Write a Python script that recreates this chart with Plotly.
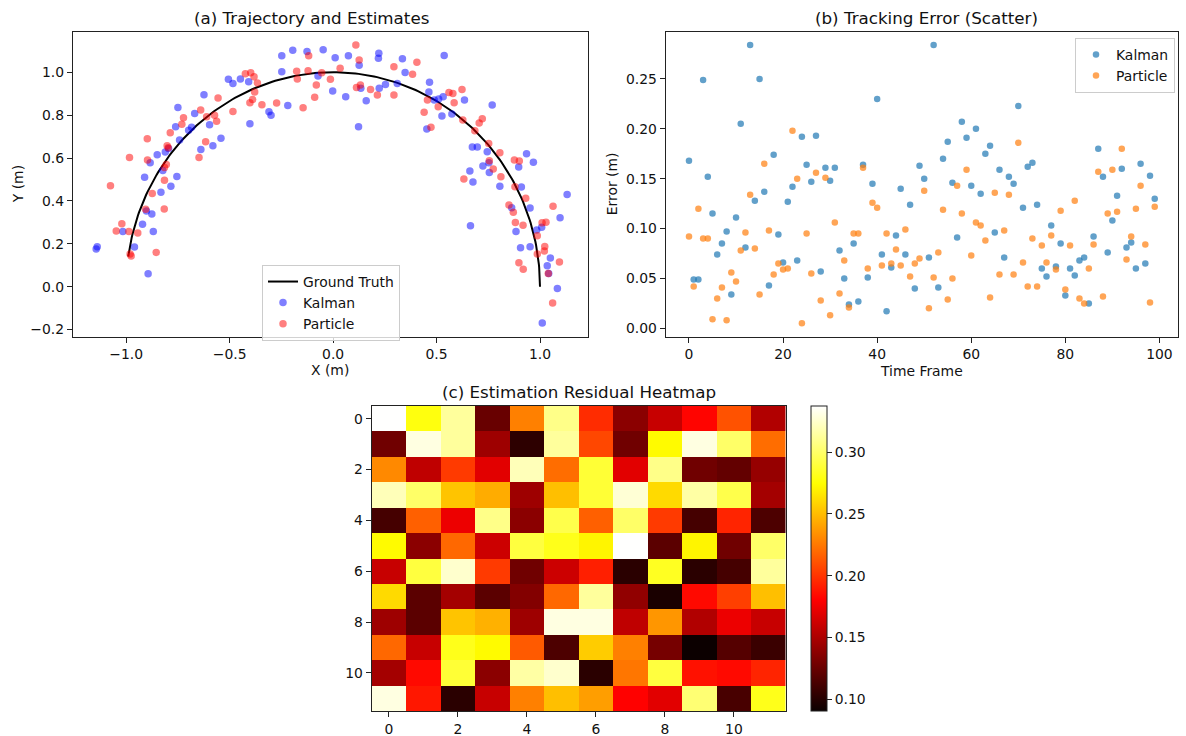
import numpy as np
import plotly.graph_objects as go

W, H = 1186, 736
FONT = "DejaVu Sans"
TXT = "#111"

# ---------------- (a) Trajectory and estimates ----------------
gt_theta = np.linspace(0.0, 3.0, 200)  # ground-truth arc parameter (radians)

kalman_x = [-1.145, -1.140, -1.016, -0.960, -0.894, -0.921, -0.902, -0.876, -0.869, -0.911,
            -0.884, -0.850, -0.832, -0.823, -0.811, -0.795, -0.784, -0.755, -0.761, -0.750,
            -0.742, -0.698, -0.684, -0.669, -0.639, -0.624, -0.597, -0.581, -0.542, -0.506,
            -0.484, -0.448, -0.408, -0.402, -0.310, -0.300, -0.248, -0.248, -0.219, -0.195,
            -0.126, -0.073, -0.048, -0.002, 0.010, 0.061, 0.074, 0.123, 0.126, 0.134,
            0.160, 0.221, 0.219, 0.223, 0.253, 0.310, 0.335, 0.348, 0.466, 0.463,
            0.489, 0.510, 0.532, 0.537, 0.526, 0.453, 0.574, 0.635, 0.769, 0.673,
            0.697, 0.745, 0.724, 0.753, 0.755, 0.661, 0.676, 0.806, 0.664, 0.897,
            0.935, 0.968, 0.910, 0.952, 0.863, 0.884, 0.906, 0.952, 0.984, 1.008,
            1.050, 1.035, 1.042, 1.097, 1.131, 1.084, 1.011]
kalman_y = [0.176, 0.186, 0.258, 0.185, 0.061, 0.291, 0.353, 0.339, 0.258, 0.510,
            0.578, 0.615, 0.440, 0.542, 0.628, 0.645, 0.468, 0.514, 0.746, 0.836,
            0.684, 0.730, 0.744, 0.808, 0.640, 0.895, 0.755, 0.657, 0.692, 0.967,
            0.948, 0.968, 0.956, 0.760, 0.816, 0.800, 1.002, 1.077, 0.845, 1.103,
            1.097, 0.982, 1.105, 0.912, 1.068, 0.886, 1.077, 0.746, 1.033, 0.925,
            0.867, 1.088, 1.065, 0.925, 0.943, 0.948, 1.063, 0.999, 0.953, 0.908,
            0.870, 0.875, 0.886, 1.078, 0.796, 0.735, 0.805, 0.870, 0.847, 0.651,
            0.651, 0.629, 0.563, 0.578, 0.533, 0.539, 0.488, 0.469, 0.284, 0.558,
            0.620, 0.580, 0.465, 0.367, 0.368, 0.258, 0.182, 0.186, 0.264, 0.277,
            0.134, 0.098, 0.062, 0.322, 0.430, -0.008, -0.169]

particle_x = [-1.076, -1.048, -1.021, -0.984, -0.987, -0.944, -0.981, -0.976, -0.898, -0.897,
              -0.874, -0.906, -0.855, -0.816, -0.815, -0.815, -0.806, -0.802, -0.797, -0.787,
              -0.731, -0.723, -0.648, -0.640, -0.616, -0.611, -0.573, -0.563, -0.556, -0.484,
              -0.424, -0.398, -0.382, -0.366, -0.379, -0.389, -0.402, -0.344, -0.273, -0.176,
              -0.173, -0.121, -0.118, -0.145, -0.089, -0.081, -0.055, -0.013, 0.034, 0.110,
              0.126, 0.113, 0.132, 0.181, 0.214, 0.294, 0.294, 0.384, 0.405, 0.440,
              0.456, 0.473, 0.508, 0.560, 0.579, 0.585, 0.623, 0.627, 0.685, 0.706,
              0.721, 0.752, 0.755, 0.774, 0.806, 0.811, 0.632, 0.876, 0.900, 0.879,
              0.850, 0.871, 0.931, 0.881, 0.918, 1.010, 1.029, 1.063, 0.987, 1.023,
              1.021, 0.987, 0.898, 0.919, 1.040, 1.094, 1.061]
particle_y = [0.471, 0.260, 0.294, 0.603, 0.258, 0.250, 0.152, 0.143, 0.690, 0.591,
              0.435, 0.361, 0.160, 0.362, 0.496, 0.556, 0.570, 0.657, 0.648, 0.718,
              0.758, 0.788, 0.603, 0.824, 0.676, 0.793, 0.799, 0.772, 0.880, 0.817,
              0.993, 0.998, 0.979, 0.950, 0.908, 0.873, 0.858, 0.848, 0.856, 1.005,
              0.968, 1.007, 1.077, 0.834, 0.883, 0.940, 0.998, 0.967, 1.019, 1.127,
              1.057, 0.929, 0.940, 0.920, 0.894, 1.026, 0.894, 0.991, 1.047, 0.813,
              0.870, 0.743, 0.839, 0.906, 0.901, 0.858, 0.920, 0.777, 0.727, 0.763,
              0.783, 0.668, 0.587, 0.549, 0.625, 0.513, 0.502, 0.591, 0.586, 0.466,
              0.381, 0.347, 0.412, 0.300, 0.287, 0.298, 0.301, 0.375, 0.238, 0.188,
              0.166, 0.152, 0.112, 0.081, 0.062, 0.115, -0.076]

# ---------------- (b) Tracking error ----------------
frames = list(range(100))
kalman_err = [0.168, 0.049, 0.049, 0.249, 0.152, 0.115, 0.074, 0.085, 0.097, 0.034,
              0.111, 0.205, 0.081, 0.284, 0.128, 0.250, 0.137, 0.043, 0.174, 0.094,
              0.066, 0.127, 0.142, 0.068, 0.192, 0.164, 0.147, 0.193, 0.057, 0.161,
              0.148, 0.161, 0.078, 0.050, 0.024, 0.085, 0.027, 0.164, 0.051, 0.145,
              0.230, 0.074, 0.017, 0.061, 0.093, 0.140, 0.074, 0.124, 0.040, 0.163,
              0.150, 0.071, 0.284, 0.041, 0.170, 0.187, 0.146, 0.091, 0.207, 0.191,
              0.143, 0.200, 0.135, 0.175, 0.183, 0.096, 0.159, 0.071, 0.152, 0.145,
              0.223, 0.121, 0.162, 0.166, 0.124, 0.060, 0.052, 0.103, 0.062, 0.085,
              0.033, 0.060, 0.053, 0.068, 0.071, 0.025, 0.092, 0.180, 0.152, 0.076,
              0.108, 0.133, 0.160, 0.081, 0.086, 0.060, 0.165, 0.065, 0.153, 0.130]
particle_err = [0.092, 0.042, 0.120, 0.090, 0.090, 0.009, 0.030, 0.041, 0.008, 0.056,
                0.047, 0.078, 0.096, 0.134, 0.080, 0.034, 0.165, 0.098, 0.054, 0.065,
                0.059, 0.060, 0.198, 0.150, 0.005, 0.095, 0.055, 0.156, 0.028, 0.151,
                0.013, 0.106, 0.035, 0.068, 0.021, 0.095, 0.095, 0.161, 0.060, 0.126,
                0.121, 0.063, 0.095, 0.065, 0.079, 0.063, 0.099, 0.052, 0.065, 0.070,
                0.138, 0.020, 0.051, 0.076, 0.119, 0.029, 0.050, 0.143, 0.115, 0.159,
                0.073, 0.106, 0.103, 0.088, 0.031, 0.136, 0.054, 0.098, 0.134, 0.054,
                0.186, 0.066, 0.042, 0.090, 0.042, 0.083, 0.066, 0.093, 0.059, 0.118,
                0.039, 0.083, 0.128, 0.030, 0.025, 0.060, 0.084, 0.157, 0.032, 0.115,
                0.159, 0.117, 0.180, 0.069, 0.092, 0.120, 0.143, 0.084, 0.026, 0.122]

# ---------------- (c) Residual heatmap ----------------
residual = [
    [0.337, 0.278, 0.313, 0.125, 0.228, 0.308, 0.197, 0.138, 0.160, 0.182, 0.211, 0.152],
    [0.128, 0.330, 0.313, 0.145, 0.103, 0.313, 0.207, 0.128, 0.273, 0.330, 0.300, 0.221],
    [0.231, 0.157, 0.202, 0.170, 0.320, 0.221, 0.288, 0.170, 0.308, 0.128, 0.123, 0.142],
    [0.320, 0.300, 0.253, 0.244, 0.145, 0.251, 0.288, 0.327, 0.261, 0.315, 0.293, 0.147],
    [0.112, 0.216, 0.174, 0.308, 0.138, 0.293, 0.216, 0.300, 0.202, 0.112, 0.194, 0.115],
    [0.273, 0.138, 0.219, 0.162, 0.290, 0.281, 0.271, 0.337, 0.120, 0.271, 0.128, 0.300],
    [0.160, 0.290, 0.325, 0.202, 0.128, 0.162, 0.192, 0.102, 0.283, 0.102, 0.112, 0.313],
    [0.261, 0.120, 0.147, 0.120, 0.135, 0.219, 0.313, 0.140, 0.096, 0.184, 0.204, 0.251],
    [0.145, 0.120, 0.253, 0.246, 0.145, 0.330, 0.330, 0.157, 0.236, 0.152, 0.174, 0.160],
    [0.219, 0.160, 0.281, 0.273, 0.214, 0.115, 0.256, 0.228, 0.130, 0.091, 0.118, 0.108],
    [0.147, 0.184, 0.288, 0.138, 0.315, 0.325, 0.102, 0.224, 0.290, 0.187, 0.184, 0.194],
    [0.330, 0.189, 0.102, 0.160, 0.228, 0.251, 0.239, 0.181, 0.170, 0.303, 0.113, 0.281],
]
res_min, res_max = 0.0906, 0.3373
hot = [[0.0, "rgb(11,0,0)"], [0.365, "rgb(255,0,0)"],
       [0.746, "rgb(255,255,0)"], [1.0, "rgb(255,255,255)"]]

# ---------------- layout helpers (pixel -> paper) ----------------
def px(x):
    return x / W

def py(y):
    return 1 - y / H

A = dict(l=72.8, r=587.8, t=31.7, b=336.7)
B = dict(l=665.7, r=1178.0, t=31.7, b=336.7)
C = dict(l=371.7, r=785.7, t=406.0, b=711.0)

TICK = 13.9
TITLE = 16.7

fig = go.Figure()

fig.add_trace(go.Scatter(
    x=np.cos(gt_theta), y=np.sin(gt_theta), mode="lines", name="Ground Truth",
    line=dict(color="black", width=2), xaxis="x", yaxis="y", legend="legend"))
fig.add_trace(go.Scatter(
    x=kalman_x, y=kalman_y, mode="markers", name="Kalman",
    marker=dict(color="blue", size=7.5, opacity=0.5, line=dict(width=0)),
    xaxis="x", yaxis="y", legend="legend"))
fig.add_trace(go.Scatter(
    x=particle_x, y=particle_y, mode="markers", name="Particle",
    marker=dict(color="red", size=7.5, opacity=0.5, line=dict(width=0)),
    xaxis="x", yaxis="y", legend="legend"))

fig.add_trace(go.Scatter(
    x=frames, y=kalman_err, mode="markers", name="Kalman",
    marker=dict(color="#1f77b4", size=6.5, opacity=0.7, line=dict(width=0)),
    xaxis="x2", yaxis="y2", legend="legend2"))
fig.add_trace(go.Scatter(
    x=frames, y=particle_err, mode="markers", name="Particle",
    marker=dict(color="#ff7f0e", size=6.5, opacity=0.7, line=dict(width=0)),
    xaxis="x2", yaxis="y2", legend="legend2"))

fig.add_trace(go.Heatmap(
    z=residual, x=list(range(12)), y=list(range(12)),
    colorscale=hot, zmin=res_min, zmax=res_max, showscale=True,
    xaxis="x3", yaxis="y3",
    colorbar=dict(
        x=px(811), xanchor="left", xref="paper", xpad=0, ypad=0,
        y=py(C["b"]), yanchor="bottom", yref="paper",
        len=(C["b"] - C["t"]) / H, lenmode="fraction",
        thickness=16, thicknessmode="pixels",
        outlinewidth=1, outlinecolor="#222",
        tickvals=[0.10, 0.15, 0.20, 0.25, 0.30], tickformat=".2f",
        ticks="outside", ticklen=5, tickwidth=1, tickcolor="#222",
        tickfont=dict(family=FONT, size=TICK, color=TXT),
    ),
    showlegend=False))

axis_common = dict(showline=True, linecolor="#222", linewidth=1, mirror=True,
                   ticks="outside", ticklen=5, tickwidth=1, tickcolor="#222",
                   showgrid=False, zeroline=False,
                   tickfont=dict(family=FONT, size=TICK, color=TXT))

fig.update_layout(
    width=W, height=H, margin=dict(l=0, r=0, t=0, b=0),
    paper_bgcolor="white", plot_bgcolor="white",
    font=dict(family=FONT, size=TICK, color=TXT),
    xaxis=dict(domain=[px(A["l"]), px(A["r"])], range=[-1.258, 1.231],
               tickvals=[-1.0, -0.5, 0.0, 0.5, 1.0], tickformat=".1f",
               anchor="y", **axis_common),
    yaxis=dict(domain=[py(A["b"]), py(A["t"])], range=[-0.233, 1.189],
               tickvals=[-0.2, 0.0, 0.2, 0.4, 0.6, 0.8, 1.0], tickformat=".1f",
               anchor="x", **axis_common),
    xaxis2=dict(domain=[px(B["l"]), px(B["r"])], range=[-4.95, 103.95],
                tickvals=[0, 20, 40, 60, 80, 100], anchor="y2", **axis_common),
    yaxis2=dict(domain=[py(B["b"]), py(B["t"])], range=[-0.0084, 0.2974],
                tickvals=[0.0, 0.05, 0.10, 0.15, 0.20, 0.25], tickformat=".2f",
                anchor="x2", **axis_common),
    xaxis3=dict(domain=[px(C["l"]), px(C["r"])], range=[-0.5, 11.5],
                tickvals=[0, 2, 4, 6, 8, 10], anchor="y3", **axis_common),
    yaxis3=dict(domain=[py(C["b"]), py(C["t"])], range=[11.5, -0.5],
                tickvals=[0, 2, 4, 6, 8, 10], anchor="x3", **axis_common),
    legend=dict(x=px(262), y=py(265), xanchor="left", yanchor="top",
                bgcolor="rgba(255,255,255,0.8)", bordercolor="#cccccc", borderwidth=1,
                font=dict(family=FONT, size=TICK, color=TXT), tracegroupgap=0),
    legend2=dict(x=px(1075), y=py(38), xanchor="left", yanchor="top",
                 bgcolor="rgba(255,255,255,0.8)", bordercolor="#cccccc", borderwidth=1,
                 font=dict(family=FONT, size=TICK, color=TXT), tracegroupgap=0),
    showlegend=True,
)

ann = [
    ("(a) Trajectory and Estimates", 311, 18, 0, TITLE),
    ("(b) Tracking Error (Scatter)", 926, 18, 0, TITLE),
    ("(c) Estimation Residual Heatmap", (C["l"] + C["r"]) / 2, 392, 0, TITLE),
    ("X (m)", (A["l"] + A["r"]) / 2, 370, 0, TICK),
    ("Y (m)", 18, (A["t"] + A["b"]) / 2, -90, TICK),
    ("Time Frame", (B["l"] + B["r"]) / 2, 371, 0, TICK),
    ("Error (m)", 612, (B["t"] + B["b"]) / 2, -90, TICK),
]
for text, x, y, ang, size in ann:
    fig.add_annotation(text=text, x=px(x), y=py(y), xref="paper", yref="paper",
                       xanchor="center", yanchor="middle", showarrow=False,
                       textangle=ang, font=dict(family=FONT, size=size, color=TXT))

fig.write_html("out.html", config={"displayModeBar": False},
               post_script="document.body.style.margin='0';document.body.style.padding='0';")
